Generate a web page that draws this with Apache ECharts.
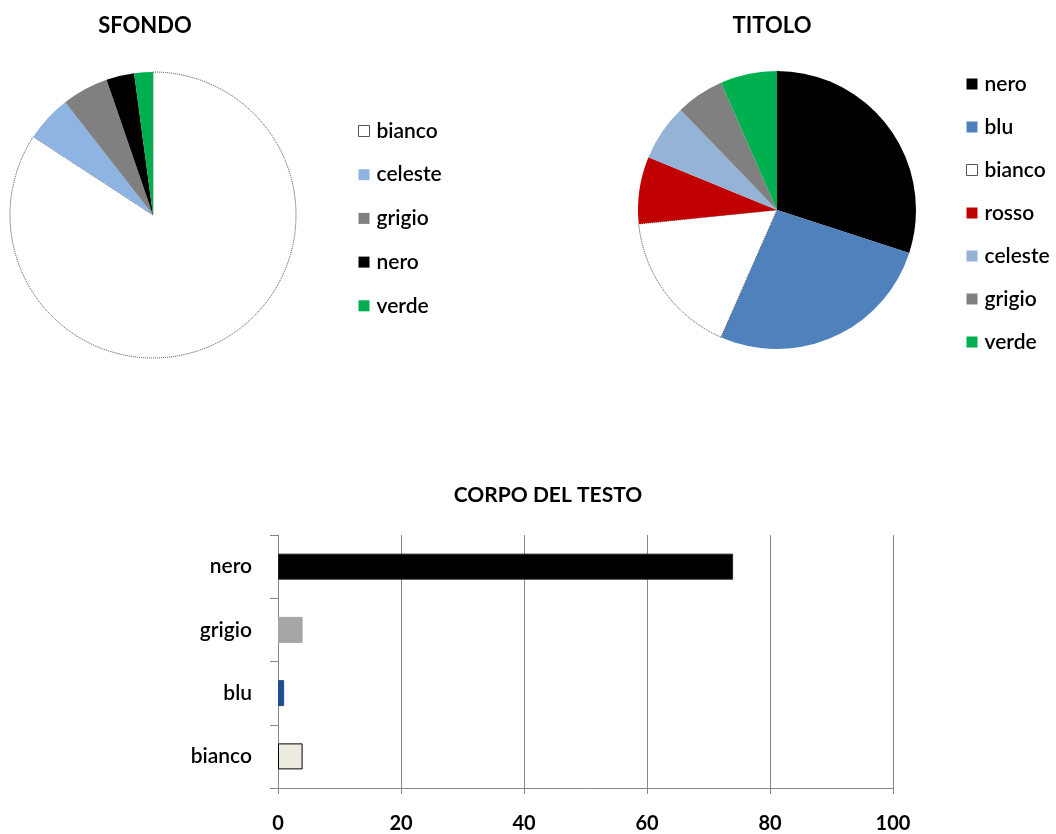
<!DOCTYPE html>
<html>
<head>
<meta charset="utf-8">
<script src="https://cdn.jsdelivr.net/npm/echarts@6/dist/echarts.min.js"></script>
<style>html,body{margin:0;padding:0;background:#fff;}#c{width:1056px;height:834px;}</style>
</head>
<body>
<div id="c"></div>
<script>
// SFONDO pie
var sfondoNames = ['bianco', 'celeste', 'grigio', 'nero', 'verde'];
var sfondoValues = [80, 5, 5, 3, 2];
var sfondoColors = ['#ffffff', '#8db4e2', '#808080', '#000000', '#00b050'];

// TITOLO pie
var titoloNames = ['nero', 'blu', 'bianco', 'rosso', 'celeste', 'grigio', 'verde'];
var titoloValues = [30, 26.6, 16.8, 7.8, 6.6, 5.6, 6.6];
var titoloColors = ['#000000', '#4f81bd', '#ffffff', '#c00000', '#95b3d7', '#808080', '#00b050'];

// CORPO DEL TESTO bars
var corpoCategories = ['bianco', 'blu', 'grigio', 'nero'];
var corpoValues = [4, 1, 4, 74];
var corpoColors = ['#eeece1', '#1f4e8c', '#a6a6a6', '#000000'];
var corpoBorders = ['#000000', '#1f4e8c', '#a6a6a6', '#222222'];
var xTicks = [0, 20, 40, 60, 80, 100];

var FONT = 'Lato, "Open Sans", sans-serif';

function pieData(names, values, colors) {
  return names.map(function (n, i) {
    var white = colors[i] === '#ffffff';
    return {
      name: n, value: values[i],
      itemStyle: {
        color: colors[i],
        borderColor: white ? '#444' : colors[i],
        borderWidth: white ? 1 : 0,
        borderType: white ? 'dotted' : 'solid'
      }
    };
  });
}
function legendData(names, colors) {
  return names.map(function (n, i) {
    var white = colors[i] === '#ffffff';
    return {
      name: n,
      itemStyle: { color: colors[i], borderColor: white ? '#555' : colors[i], borderWidth: white ? 1 : 0, borderType: 'solid' }
    };
  });
}

var chart = echarts.init(document.getElementById('c'), null, { renderer: 'canvas' });
chart.setOption({
  animation: false,
  backgroundColor: '#ffffff',
  title: [
    { text: 'SFONDO', left: 140, top: 10, textAlign: 'center', textStyle: { fontFamily: FONT, fontWeight: 'bold', fontSize: 22, color: '#000' } },
    { text: 'TITOLO', left: 767, top: 10, textAlign: 'center', textStyle: { fontFamily: FONT, fontWeight: 'bold', fontSize: 22, color: '#000' } },
    { text: 'CORPO DEL TESTO', left: 543, top: 480, textAlign: 'center', textStyle: { fontFamily: FONT, fontWeight: 'bold', fontSize: 21, color: '#000' } }
  ],
  legend: [
    {
      orient: 'vertical', left: 353, top: 114, icon: 'rect', itemWidth: 11, itemHeight: 11,
      itemGap: 19.7, selectedMode: false,
      textStyle: { fontFamily: FONT, fontSize: 21, fontWeight: 600, color: '#000', padding: [0, 0, 0, 2], lineHeight: 24 },
      data: legendData(sfondoNames, sfondoColors)
    },
    {
      orient: 'vertical', left: 961, top: 67, icon: 'rect', itemWidth: 11, itemHeight: 11,
      itemGap: 19, selectedMode: false,
      textStyle: { fontFamily: FONT, fontSize: 21, fontWeight: 600, color: '#000', padding: [0, 0, 0, 2], lineHeight: 24 },
      data: legendData(titoloNames, titoloColors)
    }
  ],
  grid: { left: 278, right: 163, top: 535, bottom: 44, containLabel: false },
  xAxis: {
    type: 'value', min: 0, max: 100, interval: 20,
    axisLine: { show: true, lineStyle: { color: '#868686', width: 1 } },
    axisTick: { show: true, length: 6, lineStyle: { color: '#868686' } },
    splitLine: { show: true, lineStyle: { color: '#868686', width: 1 } },
    axisLabel: { margin: 26, fontFamily: FONT, fontSize: 20, fontWeight: 'bold', color: '#000' }
  },
  yAxis: {
    type: 'category', data: corpoCategories,
    axisLine: { show: true, lineStyle: { color: '#868686', width: 1 } },
    axisTick: { show: true, length: 8, lineStyle: { color: '#868686' } },
    axisLabel: { margin: 26, fontFamily: FONT, fontSize: 21, fontWeight: 600, color: '#000' }
  },
  series: [
    {
      type: 'pie', name: 'SFONDO', center: [153, 215], radius: 143, startAngle: 90, clockwise: true,
      label: { show: false }, labelLine: { show: false }, silent: true,
      data: pieData(sfondoNames, sfondoValues, sfondoColors)
    },
    {
      type: 'pie', name: 'TITOLO', center: [777, 210], radius: 139, startAngle: 90, clockwise: true,
      label: { show: false }, labelLine: { show: false }, silent: true,
      data: pieData(titoloNames, titoloValues, titoloColors)
    },
    {
      type: 'bar', name: 'CORPO DEL TESTO', barWidth: 26, silent: true,
      data: corpoValues.map(function (v, i) {
        return { value: v, itemStyle: { color: corpoColors[i], borderColor: corpoBorders[i], borderWidth: 1 } };
      })
    }
  ]
});
</script>
</body>
</html>
